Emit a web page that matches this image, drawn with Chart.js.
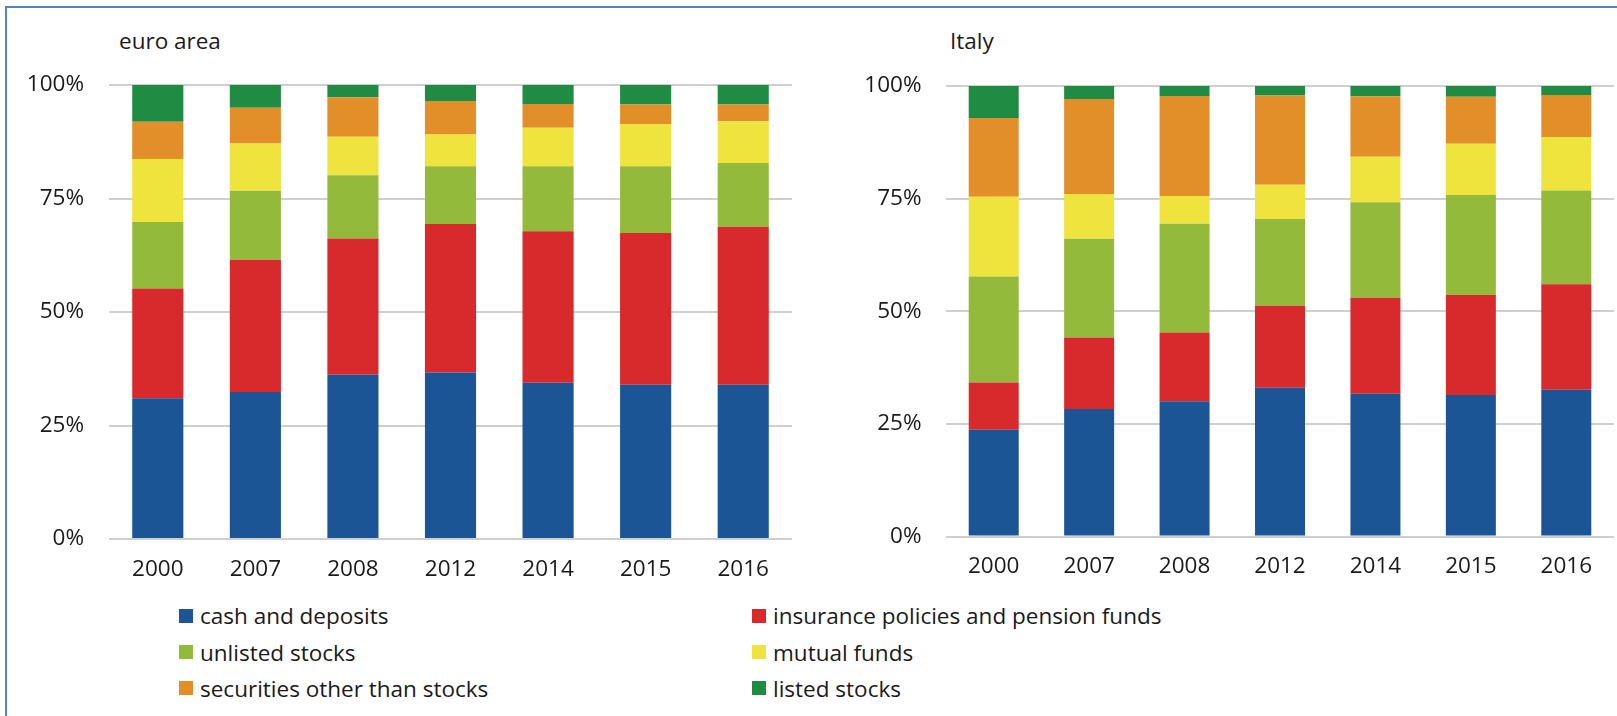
<!DOCTYPE html>
<html>
<head>
<meta charset="utf-8">
<title>Household financial assets</title>
<script src="https://cdn.jsdelivr.net/npm/chart.js@4.4.1/dist/chart.umd.min.js"></script>
<style>
    html, body { margin: 0; padding: 0; background: #fff; width: 1617px; height: 716px; overflow: hidden; }
    body { position: relative; font-family: "Open Sans", sans-serif; color: #1a1a1a; }
    .frame { position: absolute; left: 5px; top: 6px; width: 1700px; height: 800px; border: 2px solid #5583c2; box-sizing: border-box; }
    .box { position: absolute; }
    .title { position: absolute; font-size: 22.5px; line-height: 22.5px; white-space: nowrap; }
    .legend-item { position: absolute; display: flex; align-items: center; height: 28px; font-size: 22.5px; white-space: nowrap; }
    .swatch { width: 14px; height: 14px; margin-right: 7px; flex: none; }
</style>
</head>
<body>

<div class="frame"></div>

<div class="title" style="left:119px; top:30px;">euro area</div>
<div class="title" style="left:950px; top:30px;">Italy</div>

<div class="box" style="left:0; top:0; width:805px; height:600px;"><canvas id="euroChart"></canvas></div>
<div class="box" style="left:808px; top:0; width:809px; height:600px;"><canvas id="italyChart"></canvas></div>

<div id="legend"></div>

<script>
// ================= DATA =================
const years = ["2000", "2007", "2008", "2012", "2014", "2015", "2016"];
const yTicks = [0, 25, 50, 75, 100];

const seriesNames = [
    "cash and deposits",
    "insurance policies and pension funds",
    "unlisted stocks",
    "mutual funds",
    "securities other than stocks",
    "listed stocks"
];
const seriesColors = ["#1c5596", "#d8292c", "#93ba3b", "#efe33d", "#e28f29", "#1f8b43"];

// euro area, % of total
const euroCash       = [31.0, 32.4, 36.2, 36.7, 34.4, 34.0, 34.0];
const euroInsurance  = [24.2, 29.1, 30.0, 32.7, 33.4, 33.4, 34.8];
const euroUnlisted   = [14.6, 15.2, 13.9, 12.7, 14.3, 14.7, 14.0];
const euroMutual     = [13.9, 10.4,  8.5,  7.0,  8.5,  9.3,  9.2];
const euroSecurities = [ 8.2,  7.9,  8.7,  7.4,  5.2,  4.3,  3.7];
const euroListed     = [ 8.1,  5.0,  2.7,  3.5,  4.2,  4.3,  4.3];

// Italy, % of total
const italyCash       = [23.7, 28.3, 30.0, 33.0, 31.7, 31.4, 32.6];
const italyInsurance  = [10.5, 15.9, 15.3, 18.2, 21.3, 22.2, 23.4];
const italyUnlisted   = [23.5, 21.9, 24.1, 19.3, 21.2, 22.2, 20.8];
const italyMutual     = [17.7,  9.9,  6.2,  7.6, 10.1, 11.4, 11.9];
const italySecurities = [17.5, 21.1, 22.2, 19.8, 13.4, 10.4,  9.3];
const italyListed     = [ 7.1,  2.9,  2.2,  2.1,  2.3,  2.4,  2.0];


// ================= HELPERS =================
const FONT = { family: "'Open Sans', sans-serif", size: 22.5 };
const TEXT_COLOR = "#1a1a1a";

function buildDatasets(seriesValues) {

    return seriesValues.map((values, i) => ({
        label: seriesNames[i],
        data: values,
        backgroundColor: seriesColors[i],
        borderWidth: 0,
        categoryPercentage: 1,
        barPercentage: 0.524
    }));

}

function buildOptions(yWidth, xHeight, yPad, padding) {

    return {
        responsive: true,
        maintainAspectRatio: false,
        animation: false,
        layout: { padding: padding },
        plugins: {
            legend: { display: false },
            tooltip: { enabled: false }
        },
        scales: {
            x: {
                stacked: true,
                grid: { display: false },
                border: { display: false },
                ticks: { color: TEXT_COLOR, font: FONT, padding: 9, maxRotation: 0 },
                afterFit: scale => { scale.height = xHeight; }
            },
            y: {
                stacked: true,
                min: 0,
                max: 100,
                grid: { color: "#cfcfcf", lineWidth: 2, drawTicks: false },
                border: { display: false },
                ticks: {
                    color: TEXT_COLOR,
                    font: FONT,
                    padding: yPad,
                    callback: value => value + "%"
                },
                afterBuildTicks: scale => {
                    scale.ticks = yTicks.map(v => ({ value: v }));
                },
                afterFit: scale => { scale.width = yWidth; }
            }
        }
    };

}


// ================= CHARTS =================
new Chart(document.getElementById("euroChart"), {
    type: "bar",
    data: {
        labels: years,
        datasets: buildDatasets([euroCash, euroInsurance, euroUnlisted, euroMutual, euroSecurities, euroListed])
    },
    options: buildOptions(109, 61, 25, { top: 85, right: 13, left: 0, bottom: 0 })
});

new Chart(document.getElementById("italyChart"), {
    type: "bar",
    data: {
        labels: years,
        datasets: buildDatasets([italyCash, italyInsurance, italyUnlisted, italyMutual, italySecurities, italyListed])
    },
    options: buildOptions(138, 63.5, 24.5, { top: 86, right: 3, left: 0, bottom: 0 })
});


// ================= LEGEND =================
const legendCols = [179, 752];
const legendRows = [601.5, 638, 674];
const legendEl = document.getElementById("legend");

seriesNames.forEach((name, i) => {

    const item = document.createElement("div");
    item.className = "legend-item";
    item.style.left = legendCols[i % 2] + "px";
    item.style.top = legendRows[Math.floor(i / 2)] + "px";

    const swatch = document.createElement("span");
    swatch.className = "swatch";
    swatch.style.background = seriesColors[i];

    const label = document.createElement("span");
    label.textContent = name;

    item.appendChild(swatch);
    item.appendChild(label);
    legendEl.appendChild(item);

});
</script>
</body>
</html>
